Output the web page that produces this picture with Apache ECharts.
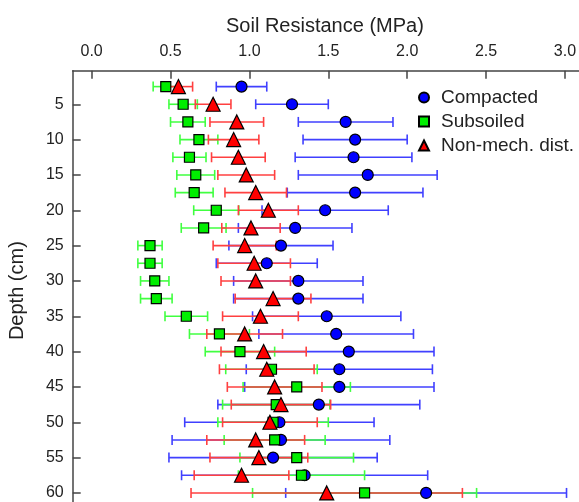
<!DOCTYPE html>
<html>
<head>
<meta charset="utf-8" />
<script src="https://cdn.jsdelivr.net/npm/echarts@6/dist/echarts.min.js"></script>
<style>
  html, body { margin: 0; padding: 0; background: #fff; }
  #chart { width: 579px; height: 502px; }
</style>
</head>
<body>
<div id="chart"></div>
<script>
// depth of each row (cm)
const depths = [2.5, 5, 7.5, 10, 12.5, 15, 17.5, 20, 22.5, 25, 27.5, 30,
  32.5, 35, 37.5, 40, 42.5, 45, 47.5, 50, 52.5, 55, 57.5, 60];

// soil resistance (MPa), mean and error half-width
const compacted = [0.95, 1.27, 1.61, 1.67, 1.66, 1.75, 1.67, 1.48, 1.29, 1.20, 1.11, 1.31,
  1.31, 1.49, 1.55, 1.63, 1.57, 1.57, 1.44, 1.19, 1.20, 1.15, 1.35, 2.12];
const compactedErr = [0.16, 0.23, 0.30, 0.33, 0.37, 0.44, 0.43, 0.40, 0.36, 0.33, 0.32, 0.41,
  0.41, 0.47, 0.49, 0.54, 0.59, 0.60, 0.64, 0.60, 0.69, 0.66, 0.78, 0.89];

const subsoiled = [0.47, 0.58, 0.61, 0.68, 0.62, 0.66, 0.65, 0.79, 0.71, 0.37, 0.37, 0.40,
  0.41, 0.60, 0.81, 0.94, 1.14, 1.30, 1.17, 1.15, 1.16, 1.30, 1.33, 1.73];
const subsoiledErr = [0.08, 0.09, 0.11, 0.12, 0.105, 0.12, 0.12, 0.143, 0.142, 0.077, 0.077, 0.09,
  0.10, 0.135, 0.19, 0.22, 0.29, 0.34, 0.34, 0.35, 0.32, 0.36, 0.40, 0.71];

const nonMech = [0.55, 0.77, 0.92, 0.90, 0.93, 0.98, 1.04, 1.12, 1.01, 0.97, 1.03, 1.04,
  1.15, 1.07, 0.97, 1.09, 1.11, 1.16, 1.20, 1.13, 1.04, 1.06, 0.95, 1.49];
const nonMechErr = [0.09, 0.113, 0.17, 0.16, 0.17, 0.18, 0.195, 0.19, 0.185, 0.20, 0.23, 0.22,
  0.24, 0.24, 0.24, 0.27, 0.30, 0.30, 0.315, 0.30, 0.31, 0.31, 0.30, 0.86];

const xTicks = [0, 0.5, 1, 1.5, 2, 2.5, 3];
const yTicks = [5, 10, 15, 20, 25, 30, 35, 40, 45, 50, 55, 60];

const seriesNames = ["Compacted", "Subsoiled", "Non-mech. dist."];

const font = "Liberation Sans, Arial, sans-serif";

function points(vals) {
  return vals.map((v, i) => [v, depths[i]]);
}
function bars(vals, errs) {
  return vals.map((v, i) => [v - errs[i], v + errs[i], depths[i]]);
}

function errorBar(color, z) {
  return {
    type: "custom",
    z: z,
    silent: true,
    encode: { x: [0, 1], y: 2 },
    renderItem: (params, api) => {
      const lo = api.coord([api.value(0), api.value(2)]);
      const hi = api.coord([api.value(1), api.value(2)]);
      const cap = 5;
      const style = { stroke: color, lineWidth: 1.6 };
      return {
        type: "group",
        children: [
          { type: "line", shape: { x1: lo[0], y1: lo[1], x2: hi[0], y2: hi[1] }, style },
          { type: "line", shape: { x1: lo[0], y1: lo[1] - cap, x2: lo[0], y2: lo[1] + cap }, style },
          { type: "line", shape: { x1: hi[0], y1: hi[1] - cap, x2: hi[0], y2: hi[1] + cap }, style },
        ],
      };
    },
  };
}

function markers(name, vals, symbol, size, color, z) {
  return {
    name: name,
    type: "scatter",
    z: z,
    symbol: symbol,
    symbolSize: size,
    data: points(vals),
    itemStyle: { color: color, borderColor: "#000", borderWidth: 1.2, opacity: 1 },
  };
}

const tickStyle = { color: "#444", width: 1.5 };

const option = {
  animation: false,
  title: {
    text: "Soil Resistance (MPa)",
    left: 221,
    top: 11,
    textStyle: { fontFamily: font, fontSize: 20, fontWeight: "normal", color: "#222" },
  },
  legend: {
    orient: "vertical",
    left: 413,
    top: 83,
    itemWidth: 10,
    itemHeight: 10,
    itemGap: 5,
    data: seriesNames,
    textStyle: { fontFamily: font, fontSize: 19, color: "#222", padding: [0, 0, 0, 7] },
  },
  grid: {
    left: 72.7,
    top: 70.7,
    right: -17.5,
    bottom: -8.6,
    containLabel: false,
    outerBoundsMode: "none",
  },
  xAxis: {
    type: "value",
    position: "top",
    min: -0.12,
    max: 3.2,
    axisLine: { onZero: false, lineStyle: tickStyle },
    axisTick: { inside: true, length: 8, lineStyle: tickStyle, customValues: xTicks },
    axisLabel: {
      customValues: xTicks,
      formatter: (v) => v.toFixed(1),
      margin: 11,
      fontFamily: font,
      fontSize: 16,
      color: "#222",
    },
    splitLine: { show: false },
  },
  yAxis: {
    type: "value",
    inverse: true,
    min: 0.25,
    max: 62.5,
    name: "Depth (cm)",
    nameLocation: "middle",
    nameRotate: 90,
    nameGap: 45,
    nameMoveOverlap: false,
    nameTextStyle: { fontFamily: font, fontSize: 20, color: "#222" },
    axisLine: { onZero: false, lineStyle: tickStyle },
    axisTick: { inside: true, length: 8, lineStyle: tickStyle, customValues: yTicks },
    axisLabel: {
      customValues: yTicks,
      margin: 9,
      fontFamily: font,
      fontSize: 16,
      color: "#222",
    },
    splitLine: { show: false },
  },
  series: [
    Object.assign(errorBar("#4040ff", 1), { name: "Compacted bars", data: bars(compacted, compactedErr) }),
    Object.assign(errorBar("#40ff40", 2), { name: "Subsoiled bars", data: bars(subsoiled, subsoiledErr) }),
    Object.assign(errorBar("#ff4040", 3), { name: "Non-mech bars", data: bars(nonMech, nonMechErr) }),
    markers(seriesNames[0], compacted, "circle", 11, "#0000ff", 4),
    markers(seriesNames[1], subsoiled, "rect", 10, "#00ee00", 5),
    markers(seriesNames[2], nonMech, "triangle", 14, "#ff0000", 6),
  ],
};

echarts.init(document.getElementById("chart"), null, { renderer: "canvas" }).setOption(option);
</script>
</body>
</html>
